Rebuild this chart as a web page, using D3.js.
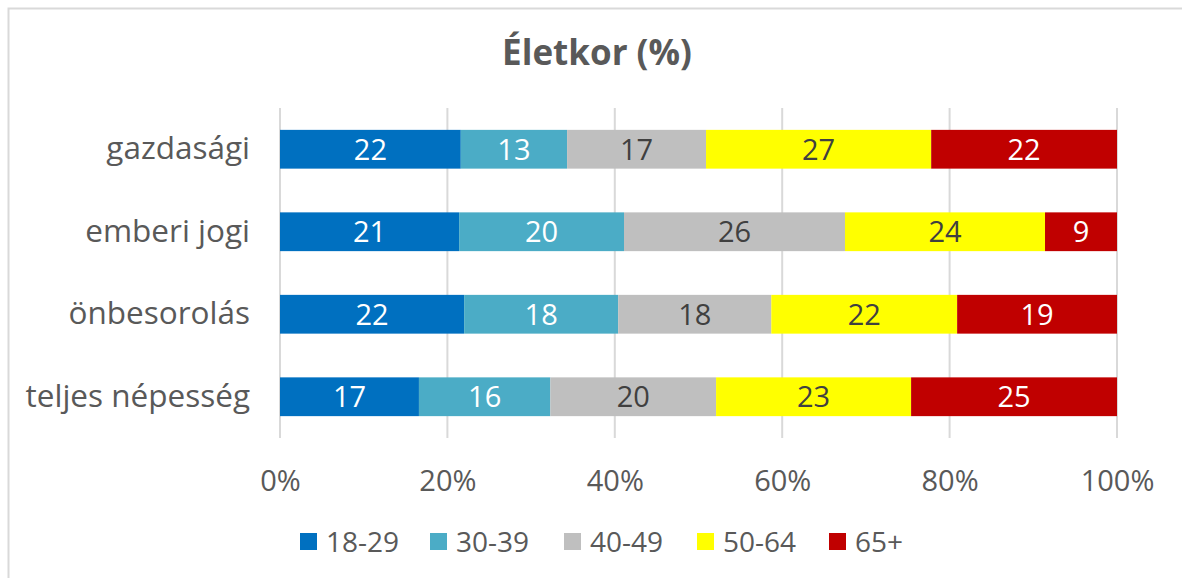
<!DOCTYPE html>
<html>
<head>
<meta charset="utf-8">
<script src="https://cdn.jsdelivr.net/npm/d3@7"></script>
<style>
  body { margin: 0; background: #fff; }
  text { font-family: "Open Sans", "Noto Sans", sans-serif; }
</style>
</head>
<body>
<div id="vis"></div>
<script>
// categories, series and values (percent)
var categories = ['gazdasági', 'emberi jogi', 'önbesorolás', 'teljes népesség'];
var seriesNames = ['18-29', '30-39', '40-49', '50-64', '65+'];
var seriesColors = ['#0070C0', '#4BACC6', '#BFBFBF', '#FFFF00', '#C00000'];
var labelColors = ['#ffffff', '#ffffff', '#404040', '#404040', '#ffffff'];
var v18 = [21.6, 21.4, 22.0, 16.6];
var v30 = [12.7, 19.7, 18.4, 15.7];
var v40 = [16.6, 26.4, 18.3, 19.8];
var v50 = [26.9, 23.9, 22.2, 23.3];
var v65 = [22.2, 8.6, 19.1, 24.6];
var tickValues = [0, 0.2, 0.4, 0.6, 0.8, 1];
var titleText = 'Életkor (%)';

var width = 1182, height = 578;
var margin = {left: 280, right: 65, top: 108, bottom: 140};
var drawWidth = width - margin.left - margin.right,
    drawHeight = height - margin.top - margin.bottom;

var svg = d3.select('#vis').append('svg')
            .attr('width', width)
            .attr('height', height);

// chart frame
svg.append('rect')
   .attr('x', 8.5).attr('y', 8.5)
   .attr('width', 1300).attr('height', 700)
   .attr('fill', 'none')
   .attr('stroke', '#d9d9d9')
   .attr('stroke-width', 2);

svg.append('text')
   .attr('x', 597).attr('y', 65)
   .attr('text-anchor', 'middle')
   .attr('font-size', 35)
   .attr('font-weight', 'bold')
   .attr('fill', '#595959')
   .text(titleText);

var g = svg.append('g')
           .attr('transform', `translate(${margin.left}, ${margin.top})`);

var rows = categories.map((c, i) => {
    var vals = [v18[i], v30[i], v40[i], v50[i], v65[i]];
    var total = d3.sum(vals);
    var row = {cat: c};
    seriesNames.forEach((s, j) => { row[s] = vals[j] / total; row[s + '_v'] = vals[j]; });
    return row;
});

var stack = d3.stack().keys(seriesNames);
var stacked = stack(rows);

var xScale = d3.scaleLinear().domain([0, 1]).range([0, drawWidth]);
var yScale = d3.scaleBand().domain(categories).range([0, drawHeight]).paddingInner(0.53).paddingOuter(0.265);

// gridlines
g.selectAll('.grid')
 .data(tickValues)
 .enter().append('line')
 .attr('x1', d => xScale(d)).attr('x2', d => xScale(d))
 .attr('y1', 0).attr('y2', drawHeight)
 .attr('stroke', '#d9d9d9')
 .attr('stroke-width', 2);

var xAxis = d3.axisBottom(xScale).tickValues(tickValues).tickFormat(d3.format('.0%')).tickSize(0).tickPadding(0);
var xAxisG = g.append('g')
              .attr('transform', `translate(0, ${drawHeight})`)
              .call(xAxis);
xAxisG.select('.domain').remove();
xAxisG.selectAll('text')
      .attr('dy', 0)
      .attr('y', 53)
      .attr('font-size', 29)
      .attr('fill', '#595959');

var yAxis = d3.axisLeft(yScale).tickSize(0).tickPadding(30);
var yAxisG = g.append('g').call(yAxis);
yAxisG.select('.domain').remove();
yAxisG.selectAll('text')
      .attr('font-size', 31.5)
      .attr('fill', '#595959');

var layers = g.selectAll('.layer')
              .data(stacked)
              .enter().append('g')
              .attr('class', 'layer');

layers.selectAll('rect')
      .data(d => d)
      .enter().append('rect')
      .attr('x', d => xScale(d[0]))
      .attr('y', d => yScale(d.data.cat))
      .attr('width', d => xScale(d[1]) - xScale(d[0]))
      .attr('height', yScale.bandwidth())
      .attr('fill', function() { return seriesColors[seriesNames.indexOf(d3.select(this.parentNode).datum().key)]; });

layers.each(function(s, j) {
    d3.select(this).selectAll('.lbl')
      .data(s)
      .enter().append('text')
      .attr('class', 'lbl')
      .attr('x', d => (xScale(d[0]) + xScale(d[1])) / 2)
      .attr('y', d => yScale(d.data.cat) + yScale.bandwidth() / 2)
      .attr('dy', '0.36em')
      .attr('text-anchor', 'middle')
      .attr('font-size', 29)
      .attr('fill', labelColors[j])
      .text(d => Math.round(d.data[s.key + '_v']));
});

// legend
var legendX = [300, 430, 564, 697, 829];
var legend = svg.selectAll('.legend')
                .data(seriesNames)
                .enter().append('g')
                .attr('transform', (d, i) => `translate(${legendX[i]}, 533)`);
legend.append('rect')
      .attr('width', 17).attr('height', 17)
      .attr('fill', (d, i) => seriesColors[i]);
legend.append('text')
      .attr('x', 26).attr('y', 9)
      .attr('dy', '0.36em')
      .attr('font-size', 28)
      .attr('fill', '#595959')
      .text(d => d);
</script>
</body>
</html>
